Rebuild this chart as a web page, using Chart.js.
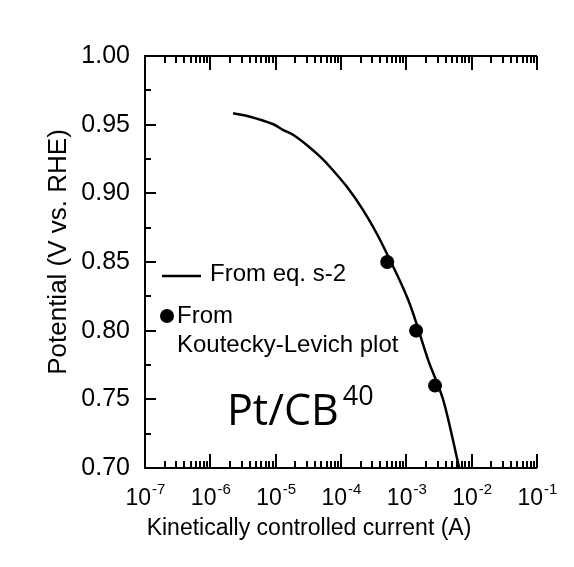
<!DOCTYPE html>
<html>
<head>
<meta charset="utf-8">
<script src="https://cdn.jsdelivr.net/npm/chart.js@4/dist/chart.umd.min.js"></script>
<style>
  html, body { margin: 0; padding: 0; background: #fff; }
  #wrap { width: 574px; height: 567px; }
</style>
</head>
<body>
<div id="wrap"><canvas id="chart" width="574" height="567"></canvas></div>
<script>
// curve from eq. s-2
const curveCurrent = [2.23e-6, 4.06e-6, 9.2e-6, 1.31e-5, 1.87e-5, 2.99e-5, 4.79e-5, 6.8e-5, 1.24e-4, 2.18e-4, 3.97e-4, 1.07e-3, 2.16e-3, 3.67e-3, 6.45e-3];
const curvePotential = [0.9583, 0.9558, 0.9503, 0.9461, 0.9425, 0.9352, 0.9267, 0.9192, 0.9046, 0.8878, 0.866, 0.8223, 0.7786, 0.7495, 0.70];
// Koutecky-Levich points
const klCurrent = [5.1e-4, 1.41e-3, 2.75e-3];
const klPotential = [0.85, 0.80, 0.76];

const yTicks = [0.70, 0.75, 0.80, 0.85, 0.90, 0.95, 1.00];
const yMinorTicks = [0.725, 0.775, 0.825, 0.875, 0.925, 0.975];
const xExponents = [-7, -6, -5, -4, -3, -2, -1];
const xMinorMult = [2, 3, 4, 5, 6, 7, 8, 9];

const xTitle = 'Kinetically controlled current (A)';
const yTitle = 'Potential (V vs. RHE)';
const legendLine = 'From eq. s-2';
const legendDot = ['From', 'Koutecky-Levich plot'];
const sampleName = 'Pt/CB';
const sampleSup = '40';

const FONT = '"Liberation Sans", Arial, sans-serif';

const curveData = curveCurrent.map((c, i) => ({ x: c, y: curvePotential[i] }));
const klData = klCurrent.map((c, i) => ({ x: c, y: klPotential[i] }));

// axes, ticks, labels and legend drawn by hand
const decor = {
  id: 'decor',
  afterDraw(chart) {
    const ctx = chart.ctx;
    const a = chart.chartArea;
    const xs = chart.scales.x;
    const ys = chart.scales.y;
    ctx.save();
    ctx.strokeStyle = '#000';
    ctx.fillStyle = '#000';
    ctx.lineWidth = 2;

    // frame: left, bottom, top
    ctx.beginPath();
    ctx.moveTo(a.right, a.top);
    ctx.lineTo(a.left, a.top);
    ctx.lineTo(a.left, a.bottom);
    ctx.lineTo(a.right, a.bottom);
    ctx.stroke();

    // y ticks
    ctx.beginPath();
    yTicks.forEach(v => {
      const p = Math.round(ys.getPixelForValue(v));
      ctx.moveTo(a.left, p); ctx.lineTo(a.left + 11, p);
    });
    yMinorTicks.forEach(v => {
      const p = Math.round(ys.getPixelForValue(v));
      ctx.moveTo(a.left, p); ctx.lineTo(a.left + 6, p);
    });
    ctx.stroke();

    // x ticks top and bottom
    ctx.beginPath();
    xExponents.forEach(e => {
      const p = Math.round(xs.getPixelForValue(Math.pow(10, e)));
      ctx.moveTo(p, a.bottom); ctx.lineTo(p, a.bottom - 14);
      ctx.moveTo(p, a.top); ctx.lineTo(p, a.top + 14);
      if (e < -1) {
        xMinorMult.forEach(m => {
          const q = Math.round(xs.getPixelForValue(m * Math.pow(10, e)));
          ctx.moveTo(q, a.bottom); ctx.lineTo(q, a.bottom - 7);
          ctx.moveTo(q, a.top); ctx.lineTo(q, a.top + 7);
        });
      }
    });
    ctx.stroke();

    // y tick labels
    ctx.font = '25px ' + FONT;
    ctx.textAlign = 'right';
    ctx.textBaseline = 'middle';
    yTicks.forEach(v => {
      ctx.fillText(v.toFixed(2), a.left - 15, ys.getPixelForValue(v));
    });

    // x tick labels with superscript exponent
    xExponents.forEach(e => {
      const p = xs.getPixelForValue(Math.pow(10, e));
      ctx.font = '23px ' + FONT;
      const wb = ctx.measureText('10').width;
      ctx.font = '15px ' + FONT;
      const sup = '-' + Math.abs(e);
      const ws = ctx.measureText(sup).width;
      const x0 = p - (wb + ws) / 2;
      ctx.textAlign = 'left';
      ctx.textBaseline = 'alphabetic';
      ctx.font = '23px ' + FONT;
      ctx.fillText('10', x0, a.bottom + 37);
      ctx.font = '15px ' + FONT;
      ctx.fillText(sup, x0 + wb + 1, a.bottom + 26);
    });

    // axis titles
    ctx.font = '23px ' + FONT;
    ctx.textAlign = 'center';
    ctx.textBaseline = 'middle';
    ctx.fillText(xTitle, 309, 529);
    ctx.save();
    ctx.translate(59, 252);
    ctx.rotate(-Math.PI / 2);
    ctx.font = '26px ' + FONT;
    ctx.fillText(yTitle, 0, 0);
    ctx.restore();

    // legend
    ctx.lineWidth = 2.5;
    ctx.beginPath();
    ctx.moveTo(162, 276); ctx.lineTo(201, 276);
    ctx.stroke();
    ctx.beginPath();
    ctx.arc(167, 316, 7, 0, Math.PI * 2);
    ctx.fill();
    ctx.font = '24px ' + FONT;
    ctx.textAlign = 'left';
    ctx.fillText(legendLine, 210, 274);
    ctx.fillText(legendDot[0], 177, 316);
    ctx.fillText(legendDot[1], 177, 345);

    // sample label
    ctx.font = '43px "Open Sans", "Noto Sans", sans-serif';
    ctx.textBaseline = 'alphabetic';
    ctx.fillText(sampleName, 227, 425);
    const wn = ctx.measureText(sampleName).width;
    ctx.font = '27px "Open Sans", "Noto Sans", sans-serif';
    ctx.fillText(sampleSup, 227 + wn + 4, 405);

    ctx.restore();
  }
};

new Chart(document.getElementById('chart'), {
  type: 'scatter',
  data: {
    datasets: [
      {
        label: legendLine,
        data: curveData,
        showLine: true,
        borderColor: '#000',
        borderWidth: 2.5,
        pointRadius: 0,
        tension: 0.3,
        fill: false
      },
      {
        label: legendDot.join(' '),
        data: klData,
        showLine: false,
        pointRadius: 7,
        pointBackgroundColor: '#000',
        pointBorderColor: '#000',
        pointBorderWidth: 0
      }
    ]
  },
  options: {
    responsive: false,
    animation: false,
    layout: { padding: { left: 145, right: 37, top: 56, bottom: 99 } },
    plugins: { legend: { display: false }, tooltip: { enabled: false } },
    scales: {
      x: { type: 'logarithmic', min: 1e-7, max: 1e-1, display: false },
      y: { type: 'linear', min: 0.70, max: 1.00, display: false }
    }
  },
  plugins: [decor]
});
</script>
</body>
</html>
